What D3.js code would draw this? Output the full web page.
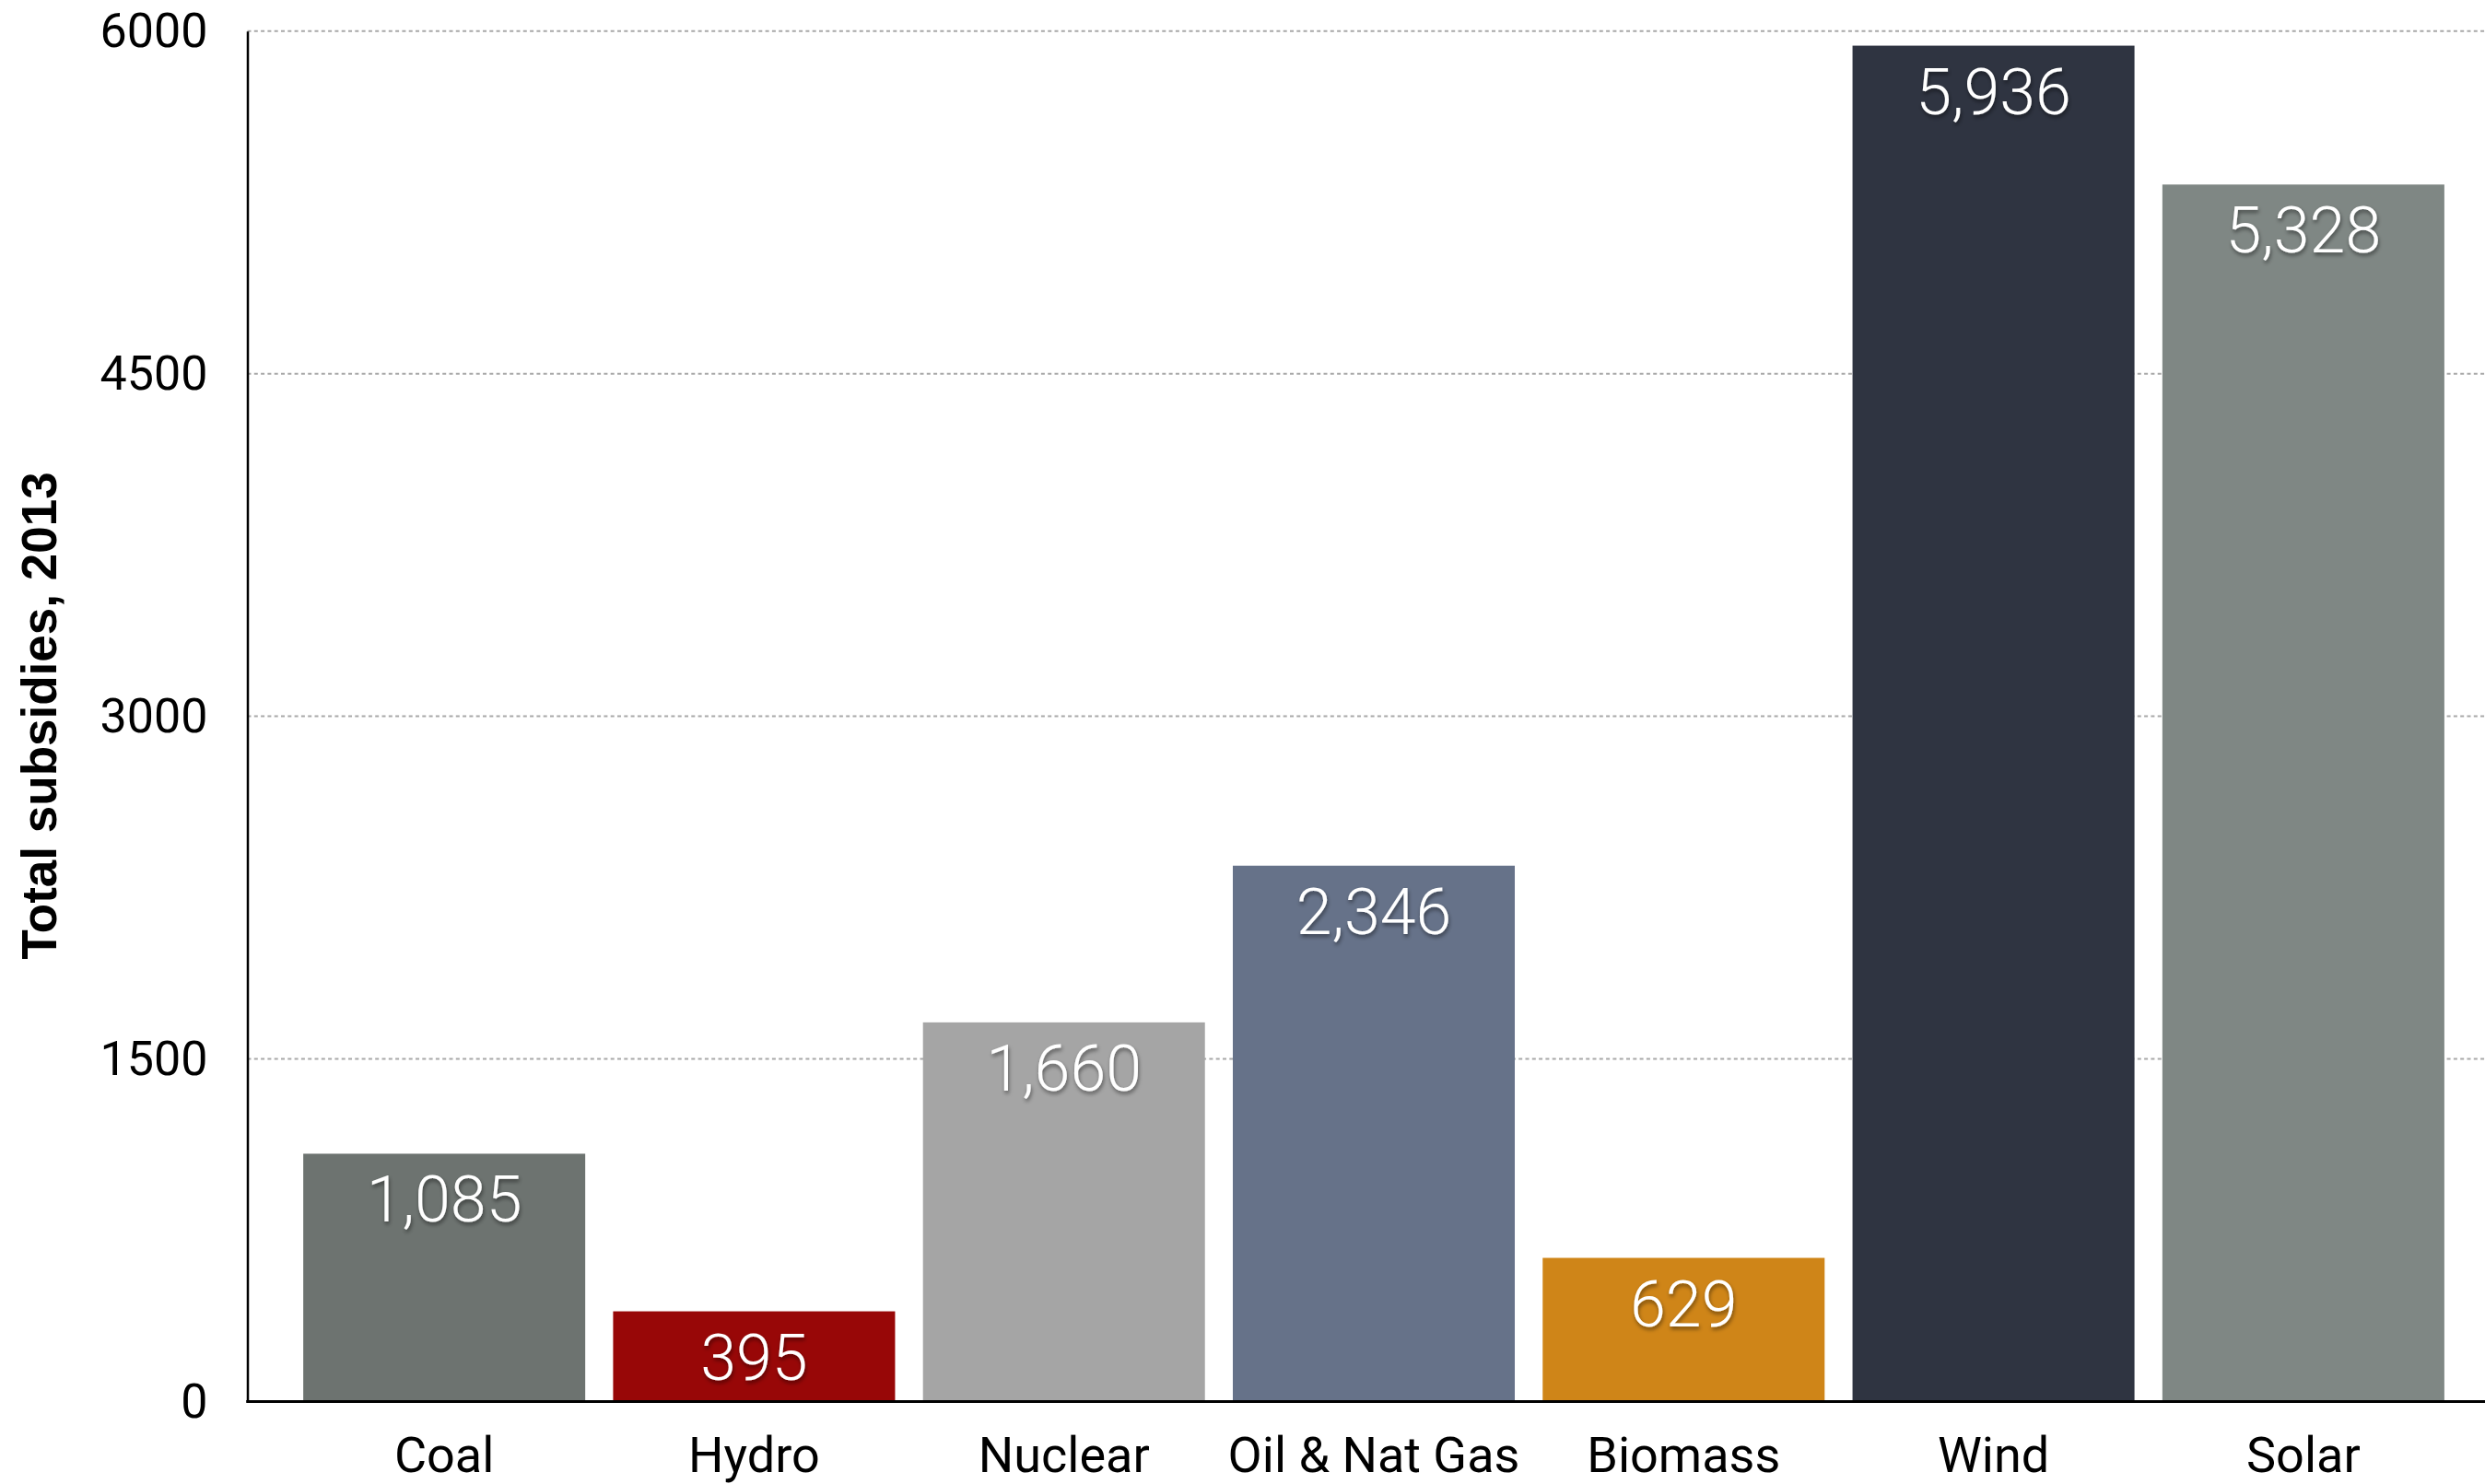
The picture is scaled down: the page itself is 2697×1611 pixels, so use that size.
<!DOCTYPE html>
<html>
<head>
<meta charset="utf-8">
<script src="https://cdn.jsdelivr.net/npm/d3@7"></script>
<style>
  html, body { margin: 0; padding: 0; background: #ffffff; }
  svg { display: block; }
</style>
</head>
<body>
<svg id="chart" width="2697" height="1611"></svg>
<script>
// Total subsidies by energy source, 2013
const categories = ["Coal", "Hydro", "Nuclear", "Oil & Nat Gas", "Biomass", "Wind", "Solar"];
const subsidies = [1085, 395, 1660, 2346, 629, 5936, 5328];
const barColors = ["#6d7370", "#980707", "#a5a5a5", "#667289", "#cf8518", "#2f3441", "#7f8784"];
const yTicks = [0, 1500, 3000, 4500, 6000];
const yTitle = "Total subsidies, 2013";

const W = 2697, H = 1611;
const axisX = 268.5;
const svg = d3.select("#chart");

const x = d3.scaleBand()
  .domain(categories)
  .range([314, 2668])
  .paddingInner(0.09)
  .paddingOuter(0.045);

const y = d3.scaleLinear()
  .domain([0, 6000])
  .range([1521.5, 33.7]);

// text shadow for the value labels
const defs = svg.append("defs");
const f = defs.append("filter").attr("id", "labelShadow")
  .attr("x", "-20%").attr("y", "-30%").attr("width", "140%").attr("height", "160%");
f.append("feDropShadow")
  .attr("dx", 1).attr("dy", 3).attr("stdDeviation", 2.2)
  .attr("flood-color", "#000").attr("flood-opacity", 0.45);

// dashed horizontal gridlines
svg.append("g").selectAll("line")
  .data(yTicks.filter(d => d > 0))
  .join("line")
  .attr("x1", axisX).attr("x2", W)
  .attr("y1", d => y(d)).attr("y2", d => y(d))
  .attr("stroke", "#a8a8a8")
  .attr("stroke-width", 2)
  .attr("stroke-dasharray", "4,3.3");

// bars
svg.append("g").selectAll("rect")
  .data(categories)
  .join("rect")
  .attr("x", d => x(d))
  .attr("width", x.bandwidth())
  .attr("y", (d, i) => y(subsidies[i]))
  .attr("height", (d, i) => y(0) - y(subsidies[i]))
  .attr("fill", (d, i) => barColors[i]);

// value labels inside the top of each bar
const fmt = d3.format(",");
svg.append("g").selectAll("text")
  .data(categories)
  .join("text")
  .attr("x", d => x(d) + x.bandwidth() / 2)
  .attr("y", (d, i) => y(subsidies[i]) + 74)
  .attr("text-anchor", "middle")
  .attr("font-family", "Roboto, 'Liberation Sans', sans-serif")
  .attr("font-weight", 300)
  .attr("font-size", 70)
  .attr("fill", "#ffffff")
  .attr("filter", "url(#labelShadow)")
  .text((d, i) => fmt(subsidies[i]));

// y axis
const yAxis = svg.append("g")
  .attr("transform", `translate(${axisX},0)`)
  .call(d3.axisLeft(y).tickValues(yTicks).tickSize(0).tickPadding(43).tickFormat(d3.format("d")));
yAxis.select(".domain").attr("stroke", "#000").attr("stroke-width", 2.5);
yAxis.selectAll("text")
  .attr("font-family", "Roboto, 'Liberation Sans', sans-serif")
  .attr("font-size", 52)
  .attr("fill", "#000");

// x axis labels
const xAxis = svg.append("g")
  .attr("transform", `translate(0,${y(0)})`)
  .call(d3.axisBottom(x).tickSize(0).tickPadding(0));
xAxis.select(".domain").remove();
xAxis.selectAll("text")
  .attr("font-family", "Roboto, 'Liberation Sans', sans-serif")
  .attr("font-size", 54)
  .attr("fill", "#000")
  .attr("dy", 0)
  .attr("y", 76);

// baseline
svg.append("line")
  .attr("x1", axisX - 1.25).attr("x2", W)
  .attr("y1", y(0)).attr("y2", y(0))
  .attr("stroke", "#000").attr("stroke-width", 3);

// y axis title
svg.append("text")
  .attr("transform", "translate(61,777) rotate(-90)")
  .attr("text-anchor", "middle")
  .attr("font-family", "'Liberation Sans', Arial, sans-serif")
  .attr("font-weight", "bold")
  .attr("font-size", 53)
  .attr("fill", "#000")
  .text(yTitle);
</script>
</body>
</html>
